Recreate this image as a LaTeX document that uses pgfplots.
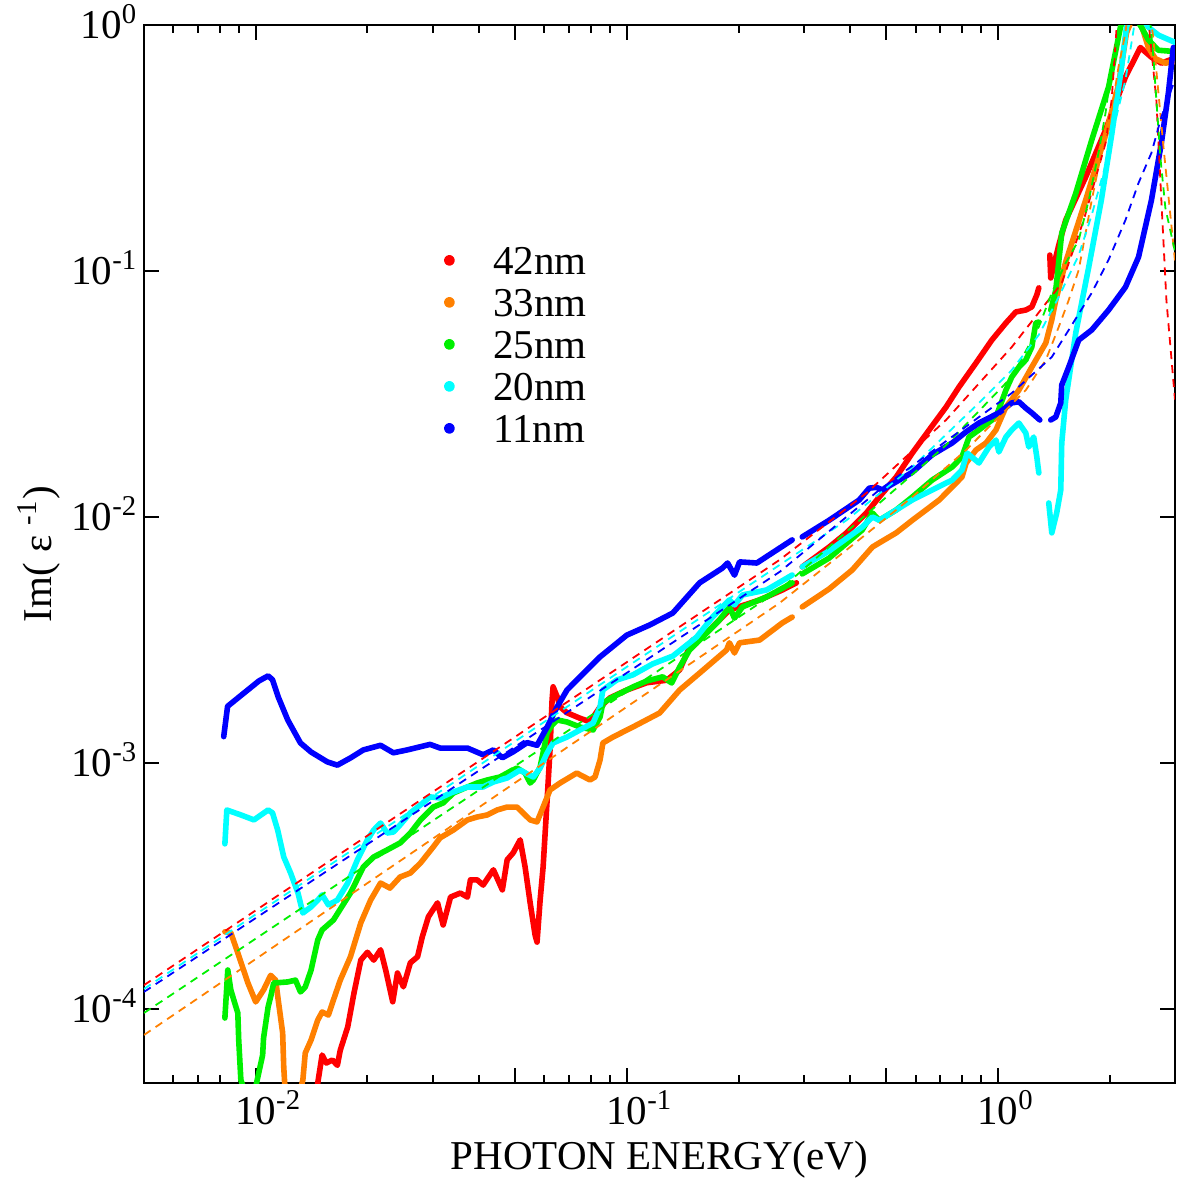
\documentclass[border=0pt]{standalone}
\usepackage{pgfplots}
\pgfplotsset{compat=1.18}
\usepackage{fontspec}
\setmainfont{Liberation Serif}
\definecolor{cRed}{RGB}{255,0,0}
\definecolor{cOrange}{RGB}{255,128,0}
\definecolor{cGreen}{RGB}{0,240,0}
\definecolor{cCyan}{RGB}{0,255,255}
\definecolor{cBlue}{RGB}{0,0,255}
\begin{document}
\fontsize{10.25}{12}\selectfont
\begin{tikzpicture}
\begin{axis}[
  scale only axis, width=257.75pt, height=264.5pt,
  xmode=log, ymode=log,
  xmin=0.005, xmax=3, ymin=5e-5, ymax=1,
  unbounded coords=jump,
  axis line style={line width=0.5pt},
  every tick/.style={line width=0.5pt, black},
  tick align=inside,
  major tick length=3.75pt, minor tick length=2pt,
  xtick={0.01,0.05,0.1,0.5,1},
  xticklabels={10\rlap{\textsuperscript{-2}},,10\rlap{\textsuperscript{-1}},,10\rlap{\textsuperscript{0}}},
  xminorticks=true,
  minor xtick={0.006,0.007,0.008,0.009,0.02,0.03,0.04,0.06,0.07,0.08,0.09,0.2,0.3,0.4,0.6,0.7,0.8,0.9,2},
  ytick={1e-4,1e-3,1e-2,1e-1,1},
  yticklabels={10\smash{\textsuperscript{-4}},10\smash{\textsuperscript{-3}},10\smash{\textsuperscript{-2}},10\smash{\textsuperscript{-1}},10\smash{\textsuperscript{0}}},
  yminorticks=false,
  xticklabel style={anchor=north, inner sep=0pt, yshift=-1.75pt, font=\fontsize{10.25}{12}\selectfont},
  yticklabel style={anchor=east, inner sep=0pt, xshift=-1.25pt, font=\fontsize{10.25}{12}\selectfont},
  xlabel={PHOTON ENERGY(eV)},
  ylabel={Im( ε \textsuperscript{-1})},
  xlabel style={at={(axis description cs:0.5,-0.0728)}, anchor=center, inner sep=0pt, font=\fontsize{10.25}{12}\selectfont},
  ylabel style={at={(axis description cs:-0.1018,0.5)}, anchor=center, inner sep=0pt, font=\fontsize{10.25}{12}\selectfont},
  legend style={draw=none, fill=none, inner sep=0pt, outer sep=0pt,
    at={(axis description cs:0.2910,0.7910)}, anchor=north west,
    row sep=3.4pt, column sep=9.6pt,
    nodes={inner sep=0pt, text height=7.1pt, text depth=0pt},
    font=\fontsize{10.25}{12}\selectfont},
  legend cell align=left,
  legend image code/.code={\fill[#1] (0pt,0pt) circle (0.65pt);},
  data/.style={line width=1.4pt, line join=round, line cap=round},
  fit/.style={line width=0.45pt, dash pattern=on 2pt off 1.5pt, forget plot},
]
% 42nm
\addplot[data, cRed] coordinates {
(0.0146,4.69e-5) (0.0151,6.5e-5) (0.0155,6.03e-5) (0.0161,6.2e-5) (0.0166,5.9e-5) (0.0169,6.8e-5)
(0.0177,8.45e-5) (0.0184,1.16e-4) (0.0192,1.58e-4) (0.0200,1.70e-4) (0.0208,1.58e-4) (0.0217,1.74e-4)
(0.0224,1.44e-4) (0.0234,1.07e-4) (0.0241,1.40e-4) (0.0250,1.23e-4) (0.0261,1.54e-4) (0.0273,1.63e-4)
(0.0281,1.96e-4) (0.0292,2.37e-4) (0.0309,2.70e-4) (0.0320,2.195e-4) (0.0335,2.85e-4) (0.0356,2.96e-4)
(0.0372,2.85e-4) (0.0379,3.35e-4) (0.0395,3.35e-4) (0.0410,3.19e-4) (0.0437,3.68e-4) (0.0462,3.05e-4)
(0.0476,4.04e-4) (0.0494,4.31e-4) (0.0516,4.87e-4) (0.0532,3.78e-4) (0.0549,2.70e-4) (0.0566,2.0e-4)
(0.0573,1.87e-4) (0.0584,2.77e-4) (0.0595,3.78e-4) (0.0610,7.08e-4) (0.0621,1.13e-3) (0.0629,1.80e-3)
(0.0633,2.04e-3) (0.0649,1.86e-3) (0.0661,1.69e-3) (0.0690,1.60e-3) (0.0748,1.52e-3) (0.0796,1.47e-3)
(0.0847,1.69e-3) (0.0901,1.84e-3) (0.100,1.98e-3) (0.1132,2.12e-3) (0.1281,2.17e-3) (0.1388,2.39e-3)
(0.1505,3.16e-3) (0.1641,3.38e-3) (0.189,4.19e-3) (0.228,4.60e-3) (0.2624,5.05e-3) (0.2865,5.40e-3)
(0.292,nan)
(0.297,6.27e-3) (0.351,7.55e-3) (0.391,8.62e-3) (0.442,1.038e-2) (0.479,1.206e-2) (0.532,1.454e-2)
(0.588,1.82e-2) (0.653,2.26e-2) (0.725,2.80e-2) (0.786,3.38e-2) (0.873,4.23e-2) (0.963,5.24e-2)
(1.051,6.15e-2) (1.118,6.82e-2) (1.189,6.94e-2) (1.234,7.15e-2) (1.273,8.0e-2) (1.289,8.54e-2)
(1.33,nan)
(1.380,0.1161) (1.388,0.0937) (1.459,0.1275) (1.523,0.161) (1.724,0.241) (1.95,0.374) (2.206,0.615)
(2.42,0.81) (2.592,0.74) (2.757,0.70) (2.97,0.73)
};
\addlegendentry{42nm}
% 33nm
\addplot[data, cOrange] coordinates {
(0.00826,2.06e-4) (0.00857,2.04e-4) (0.00895,1.69e-4) (0.00952,1.28e-4) (0.0100,1.068e-4) (0.0105,1.195e-4)
(0.01097,1.37e-4) (0.01132,1.31e-4) (0.0115,1.088e-4) (0.01182,0.80e-4) (0.0119,0.581e-4) (0.0120,0.469e-4)
(0.0128,3.9e-5) (0.0134,0.515e-4) (0.0136,0.662e-4) (0.0141,0.748e-4) (0.0147,0.902e-4) (0.0151,0.972e-4)
(0.0157,0.945e-4) (0.0162,1.088e-4) (0.0169,1.31e-4) (0.0180,1.63e-4) (0.0192,2.24e-4) (0.0204,2.77e-4)
(0.0217,3.25e-4) (0.0230,3.10e-4) (0.0245,3.44e-4) (0.0261,3.57e-4) (0.0278,3.92e-4) (0.0301,4.56e-4)
(0.0314,4.96e-4) (0.0341,5.34e-4) (0.0372,5.87e-4) (0.0395,6.03e-4) (0.0421,6.15e-4) (0.0447,6.44e-4)
(0.0476,6.62e-4) (0.0506,6.62e-4) (0.0532,6.15e-4) (0.0549,5.87e-4) (0.0573,5.76e-4) (0.0595,6.62e-4)
(0.0621,7.77e-4) (0.0661,8.29e-4) (0.0733,9.10e-4) (0.0796,8.53e-4) (0.0821,8.77e-4) (0.0847,1.028e-3)
(0.0862,1.206e-3) (0.0918,1.275e-3) (0.1038,1.40e-3) (0.1226,1.597e-3) (0.1388,1.98e-3) (0.1571,2.32e-3)
(0.1857,2.88e-3) (0.189,3.08e-3) (0.1951,2.80e-3) (0.2013,3.08e-3) (0.228,3.16e-3) (0.2624,3.71e-3)
(0.279,3.92e-3)
(0.29,nan)
(0.297,4.31e-3) (0.351,5.10e-3) (0.405,6.09e-3) (0.459,7.55e-3) (0.479,7.85e-3) (0.532,8.62e-3)
(0.588,9.7e-3) (0.640,1.068e-2) (0.695,1.173e-2) (0.753,1.324e-2) (0.800,1.454e-2) (0.821,1.658e-2)
(0.873,1.873e-2) (0.929,2.0e-2) (0.988,2.26e-2) (1.051,2.80e-2) (1.139,3.28e-2) (1.234,4.07e-2)
(1.346,5.10e-2) (1.397,6.33e-2) (1.432,7.62e-2) (1.523,0.1088) (1.724,0.1944) (1.95,0.357)
(2.113,0.570) (2.22,0.928) (2.35,1.15) (2.436,1.0) (2.544,0.81) (2.657,0.73) (2.827,0.70) (3.0,0.71)
};
\addlegendentry{33nm}
% 25nm
\addplot[data, cGreen] coordinates {
(0.00826,0.919e-4) (0.00841,1.44e-4) (0.00857,1.195e-4) (0.00873,1.088e-4) (0.00895,0.963e-4) (0.0090,0.748e-4)
(0.00912,0.515e-4) (0.0097,3.9e-5) (0.01044,0.650e-4) (0.0105,0.762e-4) (0.0108,1.019e-4) (0.01097,1.119e-4)
(0.01118,1.275e-4) (0.0122,1.288e-4) (0.0128,1.31e-4) (0.0132,1.173e-4) (0.0136,1.228e-4) (0.0141,1.44e-4)
(0.0147,1.91e-4) (0.0151,2.095e-4) (0.0162,2.30e-4) (0.0180,2.96e-4) (0.0195,3.78e-4) (0.0208,4.15e-4)
(0.0226,4.43e-4) (0.0245,4.73e-4) (0.0261,5.19e-4) (0.0278,5.87e-4) (0.0301,6.62e-4) (0.0320,6.88e-4)
(0.0341,7.55e-4) (0.0372,7.99e-4) (0.0395,8.29e-4) (0.0421,8.53e-4) (0.0455,8.77e-4) (0.0476,9.10e-4)
(0.0506,9.54e-4) (0.0532,9.10e-4) (0.0549,8.29e-4) (0.0560,8.53e-4) (0.0584,9.63e-4) (0.0610,1.324e-3)
(0.0629,1.427e-3) (0.0649,1.496e-3) (0.0690,1.468e-3) (0.0748,1.40e-3) (0.0811,1.362e-3) (0.0847,1.538e-3)
(0.0862,1.754e-3) (0.0918,1.855e-3) (0.1038,2.037e-3) (0.1132,2.155e-3) (0.1249,2.24e-3) (0.1321,2.115e-3)
(0.1388,2.455e-3) (0.1476,2.88e-3) (0.1571,3.16e-3) (0.1777,3.81e-3) (0.189,4.31e-3) (0.1951,3.88e-3)
(0.2050,4.31e-3) (0.2380,4.73e-3) (0.279,5.40e-3)
(0.29,nan)
(0.297,5.87e-3) (0.351,6.81e-3) (0.431,8.86e-3) (0.459,1.038e-2) (0.479,9.7e-3) (0.532,1.068e-2)
(0.588,1.206e-2) (0.665,1.413e-2) (0.753,1.597e-2) (0.800,1.754e-2) (0.836,2.115e-2) (0.889,2.26e-2)
(0.988,2.55e-2) (1.051,3.28e-2) (1.090,3.71e-2) (1.139,4.07e-2) (1.189,4.35e-2) (1.234,4.91e-2)
(1.265,6.15e-2) (1.289,6.2e-2)
(1.33,nan)
(1.388,6.94e-2) (1.432,8.36e-2) (1.486,0.1427) (1.621,0.207) (1.790,0.341) (1.987,0.56) (2.139,0.98)
(2.248,1.2) (2.436,0.98) (2.544,0.87) (2.706,0.79) (3.0,0.78)
};
\addlegendentry{25nm}
% 20nm
\addplot[data, cCyan] coordinates {
(0.00826,4.69e-4) (0.00836,6.44e-4) (0.00912,6.15e-4) (0.00989,5.87e-4) (0.0108,6.44e-4) (0.0111,6.27e-4)
(0.01146,5.34e-4) (0.0119,4.15e-4) (0.01242,3.57e-4) (0.0130,2.96e-4) (0.0134,2.455e-4) (0.0141,2.60e-4)
(0.0147,2.77e-4) (0.0151,2.91e-4) (0.0157,2.65e-4) (0.0166,2.77e-4) (0.0177,3.25e-4) (0.0188,4.04e-4)
(0.0200,4.87e-4) (0.0208,5.34e-4) (0.0217,5.70e-4) (0.0226,5.19e-4) (0.0235,5.24e-4) (0.0245,5.60e-4)
(0.0261,6.27e-4) (0.0278,6.75e-4) (0.0295,7.28e-4) (0.0314,7.21e-4) (0.0335,7.55e-4) (0.0372,7.99e-4)
(0.0410,7.99e-4) (0.0437,8.37e-4) (0.0476,8.69e-4) (0.0516,9.36e-4) (0.0539,9.02e-4) (0.0560,8.77e-4)
(0.0584,9.54e-4) (0.0610,1.098e-3) (0.0633,1.206e-3) (0.0690,1.275e-3) (0.0748,1.362e-3) (0.0811,1.454e-3)
(0.0847,1.689e-3) (0.0862,1.98e-3) (0.0940,2.175e-3) (0.1038,2.28e-3) (0.1175,2.53e-3) (0.1330,2.72e-3)
(0.1476,3.08e-3) (0.1542,3.25e-3) (0.1703,3.92e-3) (0.189,4.60e-3) (0.1951,4.39e-3) (0.2050,4.82e-3)
(0.2380,5.05e-3) (0.279,5.81e-3)
(0.29,nan)
(0.297,6.27e-3) (0.351,7.28e-3) (0.431,9.10e-3) (0.459,1.0e-2) (0.479,9.7e-3) (0.532,1.068e-2)
(0.588,1.173e-2) (0.665,1.288e-2) (0.753,1.413e-2) (0.800,1.553e-2) (0.826,1.82e-2) (0.889,1.658e-2)
(0.946,1.926e-2) (0.988,2.056e-2) (1.006,1.838e-2) (1.051,2.115e-2) (1.090,2.26e-2) (1.139,2.41e-2)
(1.189,2.195e-2) (1.211,1.926e-2) (1.249,2.115e-2) (1.273,1.754e-2) (1.289,1.51e-2)
(1.33,nan)
(1.371,1.14e-2) (1.397,8.62e-3) (1.440,1.038e-2) (1.477,1.288e-2) (1.486,2.0e-2) (1.523,2.99e-2)
(1.621,5.60e-2) (1.757,0.1038) (1.90,0.1944) (2.025,0.357) (2.152,0.67) (2.22,0.98) (2.32,1.2)
(2.544,0.98) (2.706,0.91) (3.0,0.85)
};
\addlegendentry{20nm}
% 11nm
\addplot[data, cBlue] coordinates {
(0.0082,1.28e-3) (0.0084,1.70e-3) (0.0102,2.155e-3) (0.0108,2.26e-3) (0.0111,2.18e-3) (0.0115,1.855e-3)
(0.0122,1.496e-3) (0.0132,1.206e-3) (0.0141,1.108e-3) (0.0156,1.01e-3) (0.0166,0.98e-3) (0.0180,1.048e-3)
(0.0195,1.13e-3) (0.0217,1.18e-3) (0.0235,1.10e-3) (0.0256,1.13e-3) (0.0295,1.19e-3) (0.0314,1.15e-3)
(0.0372,1.15e-3) (0.0410,1.08e-3) (0.0437,1.13e-3) (0.0462,1.05e-3) (0.0494,1.11e-3) (0.0539,1.21e-3)
(0.0573,1.18e-3) (0.0610,1.40e-3) (0.0649,1.69e-3) (0.0690,1.98e-3) (0.0748,2.24e-3) (0.0847,2.70e-3)
(0.100,3.31e-3) (0.1153,3.64e-3) (0.1330,4.07e-3) (0.1571,5.40e-3) (0.1810,6.2e-3) (0.1869,6.5e-3)
(0.1951,5.8e-3) (0.2013,6.57e-3) (0.224,6.5e-3) (0.279,8.07e-3)
(0.29,nan)
(0.297,8.3e-3) (0.351,9.7e-3) (0.423,1.173e-2) (0.45,1.31e-2) (0.470,1.32e-2) (0.488,1.29e-2)
(0.532,1.39e-2) (0.588,1.52e-2) (0.665,1.79e-2) (0.753,2.0e-2) (0.821,2.22e-2) (0.889,2.41e-2)
(1.006,2.65e-2) (1.090,2.91e-2) (1.139,2.94e-2) (1.189,2.77e-2) (1.234,2.65e-2) (1.297,2.48e-2)
(1.34,nan)
(1.388,2.48e-2) (1.432,2.55e-2) (1.477,2.91e-2) (1.486,3.44e-2) (1.552,4.07e-2) (1.651,5.24e-2)
(1.790,5.76e-2) (1.987,6.94e-2) (2.206,8.6e-2) (2.393,0.114) (2.592,0.194) (2.757,0.331) (2.88,0.53) (2.97,0.81)
};
\addlegendentry{11nm}
% fits
\addplot[fit, cRed] coordinates {
(0.005,1.25e-4) (0.258,6.69e-3) (0.442,1.25e-2) (0.725,2.48e-2) (1.090,4.91e-2) (1.486,8.93e-2)
(1.703,0.161) (1.95,0.331) (2.025,0.495) (2.088,0.97) (2.12,1.2) (2.50,1.2) (2.544,1.05) (2.673,0.495)
(2.757,0.194) (2.845,0.076) (3.0,0.03)};
\addplot[fit, cOrange] coordinates {
(0.005,0.784e-4) (0.258,4.47e-3) (0.391,7.35e-3) (0.588,1.206e-2) (0.821,1.873e-2) (1.006,2.55e-2)
(1.189,3.28e-2) (1.346,4.35e-2) (1.459,5.93e-2) (1.552,7.62e-2) (1.651,0.101) (1.790,0.194) (1.90,0.302)
(2.025,0.452) (2.113,0.675) (2.206,0.928) (2.25,1.2) (2.55,1.2) (2.62,0.9) (2.792,0.322) (3.0,0.11)};
\addplot[fit, cGreen] coordinates {
(0.005,0.963e-4) (0.258,5.05e-3) (0.725,1.96e-2) (1.090,3.71e-2) (1.289,5.93e-2) (1.397,8.15e-2)
(1.523,0.1078) (1.651,0.1336) (1.757,0.194) (1.867,0.302) (1.95,0.439) (2.025,0.675) (2.113,0.953)
(2.15,1.2) (2.55,1.2) (2.624,0.74) (2.74,0.29) (2.827,0.18) (3.0,0.12)};
\addplot[fit, cCyan] coordinates {
(0.005,1.206e-4) (0.258,6.38e-3) (0.391,9.7e-3) (0.588,1.597e-2) (0.889,2.91e-2) (1.090,3.96e-2)
(1.289,5.50e-2) (1.459,7.85e-2) (1.651,0.116) (1.790,0.169) (1.95,0.270) (2.075,0.411) (2.206,0.598)
(2.32,0.953) (2.36,1.2)};
\addplot[fit, cBlue] coordinates {
(0.005,1.173e-4) (0.258,5.98e-3) (0.479,1.288e-2) (1.090,3.19e-2) (1.397,4.47e-2) (1.552,5.76e-2)
(1.790,8.15e-2) (1.987,0.111) (2.206,0.161) (2.393,0.228) (2.592,0.302) (2.757,0.423) (3.0,0.6)};
\end{axis}
\pgfresetboundingbox
\path[use as bounding box] (-36pt,-26pt) rectangle (258.25pt,270.75pt);
\end{tikzpicture}
\end{document}
